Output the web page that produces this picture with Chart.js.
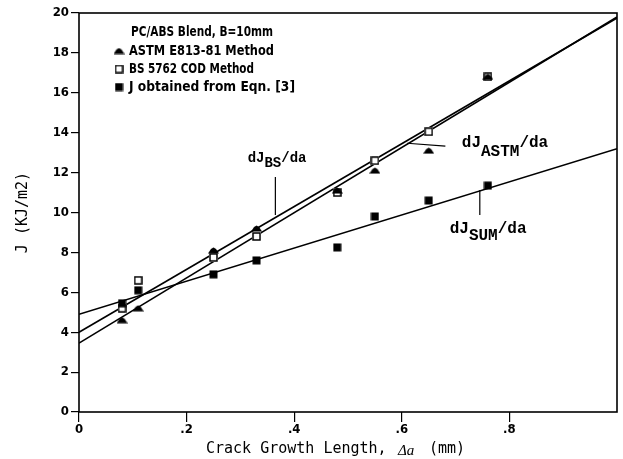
<!DOCTYPE html>
<html>
<head>
<meta charset="utf-8">
<script src="https://cdn.jsdelivr.net/npm/chart.js@4.4.1/dist/chart.umd.min.js"></script>
<style>
  html, body { margin: 0; padding: 0; background: #fff; }
  #wrap { width: 623px; height: 459px; }
</style>
</head>
<body>
<div id="wrap"><canvas id="c" width="623" height="459"></canvas></div>
<script>
// Crack growth length (mm) for each specimen
const crackLength = [0.08, 0.11, 0.25, 0.33, 0.48, 0.55, 0.65, 0.76];
// J values (kJ/m2) from each evaluation method
const jAstm = [4.6, 5.2, 8.1, 9.2, 11.1, 12.1, 13.1, 16.8];
const jBs = [5.2, 6.6, 7.75, 8.8, 11.0, 12.6, 14.05, 16.8];
const jEqn3 = [5.45, 6.1, 6.9, 7.6, 8.25, 9.8, 10.6, 11.35];

// Regression lines, given by their end values
const fitX = [0, 1];
const fitBs = [4.0, 19.75];
const fitAstm = [3.45, 19.8];
const fitSum = [4.9, 13.2];

// Axis ticks
const yTicks = [0, 2, 4, 6, 8, 10, 12, 14, 16, 18, 20];
const xTicks = [0, 0.2, 0.4, 0.6, 0.8];
const xTickLabels = ['0', '.2', '.4', '.6', '.8'];

const INK = '#000';
const TICK_FONT = '"DejaVu Sans Condensed", "DejaVu Sans", sans-serif';
const LEGEND_FONT = '"DejaVu Sans Condensed", "DejaVu Sans", sans-serif';
const TITLE_FONT = '"DejaVu Sans Mono", monospace';
const NOTE_FONT = '"Liberation Mono", "Courier New", monospace';

// Marker glyphs
function makeMarker(w, h, paint) {
  const cv = document.createElement('canvas');
  cv.width = w; cv.height = h;
  const g = cv.getContext('2d');
  paint(g);
  return cv;
}
const triMark = makeMarker(11, 7, g => {
  g.fillStyle = INK;
  g.beginPath();
  g.moveTo(0, 6.5); g.lineTo(3, 2); g.lineTo(5.5, 0.5); g.lineTo(8, 2); g.lineTo(11, 6.5);
  g.closePath(); g.fill();
});
const openSq = makeMarker(9, 9, g => {
  g.fillStyle = '#fff'; g.fillRect(0, 0, 9, 9);
  g.strokeStyle = INK; g.lineWidth = 1.5; g.strokeRect(1, 1, 7, 7);
});
const fillSq = makeMarker(9, 9, g => {
  g.fillStyle = INK; g.fillRect(0.5, 0.5, 8, 8);
});

const pts = ys => crackLength.map((x, i) => ({ x, y: ys[i] }));
const fit = ys => fitX.map((x, i) => ({ x, y: ys[i] }));

// Frame around the plotting area
const framePlugin = {
  id: 'frame',
  afterDatasetsDraw(chart) {
    const { ctx, chartArea: a } = chart;
    ctx.save();
    ctx.strokeStyle = INK; ctx.lineWidth = 1.6;
    ctx.strokeRect(a.left, a.top, a.right - a.left, a.bottom - a.top);
    ctx.restore();
  }
};

// Legend block with title, drawn inside the plot (narrow lettering)
const legendPlugin = {
  id: 'insideLegend',
  afterDraw(chart) {
    const { ctx } = chart;
    ctx.save();
    ctx.fillStyle = INK;
    ctx.textBaseline = 'middle';
    ctx.font = `bold 14px ${LEGEND_FONT}`;
    ctx.fillText('PC/ABS Blend, B=10mm', 131, 32, 142);
    const rows = [
      [triMark, 'ASTM E813-81 Method', 51, 145],
      [openSq, 'BS 5762 COD Method', 69, 125],
      [fillSq, 'J obtained from Eqn. [3]', 87, 166]
    ];
    rows.forEach(([img, label, y, w]) => {
      ctx.drawImage(img, 119 - img.width / 2, y - img.height / 2);
      ctx.fillText(label, 129, y, w);
    });
    ctx.restore();
  }
};

// Slope labels with leader lines, anchored in data units
function rateLabel(ctx, x, y, sub, size, subSize, drop) {
  ctx.textBaseline = 'alphabetic';
  ctx.font = `bold ${size}px ${NOTE_FONT}`;
  ctx.fillText('dJ', x, y);
  let cx = x + ctx.measureText('dJ').width;
  ctx.font = `bold ${subSize}px ${NOTE_FONT}`;
  ctx.fillText(sub, cx, y + drop);
  cx += ctx.measureText(sub).width;
  ctx.font = `bold ${size}px ${NOTE_FONT}`;
  ctx.fillText('/da', cx, y);
}
const notesPlugin = {
  id: 'notes',
  afterDraw(chart) {
    const { ctx } = chart;
    const X = v => chart.scales.x.getPixelForValue(v);
    const Y = v => chart.scales.y.getPixelForValue(v);
    ctx.save();
    ctx.fillStyle = INK; ctx.strokeStyle = INK; ctx.lineWidth = 1.2;
    const leader = (x1, y1, x2, y2) => {
      ctx.beginPath(); ctx.moveTo(X(x1), Y(y1)); ctx.lineTo(X(x2), Y(y2)); ctx.stroke();
    };
    rateLabel(ctx, X(0.3135), Y(12.53), 'BS', 14, 14, 5);
    leader(0.365, 11.78, 0.365, 9.87);
    rateLabel(ctx, X(0.7115), Y(13.28), 'ASTM', 16, 16, 9);
    leader(0.610, 13.47, 0.681, 13.33);
    rateLabel(ctx, X(0.689), Y(8.95), 'SUM', 16, 16, 7);
    leader(0.745, 11.13, 0.745, 9.87);

    // horizontal axis title with the italic increment symbol
    ctx.textBaseline = 'alphabetic';
    ctx.font = `15px ${TITLE_FONT}`;
    ctx.fillText('Crack Growth Length,', 206, 453);
    ctx.font = `italic 15px "Liberation Serif", serif`;
    ctx.fillText('\u0394a', 398, 455);
    ctx.font = `15px ${TITLE_FONT}`;
    ctx.fillText('(mm)', 429, 453);
    ctx.restore();
  }
};

new Chart(document.getElementById('c'), {
  type: 'scatter',
  data: {
    datasets: [
      { label: 'ASTM E813-81 Method', data: pts(jAstm), pointStyle: triMark, pointRadius: 5 },
      { label: 'J obtained from Eqn. [3]', data: pts(jEqn3), pointStyle: fillSq, pointRadius: 5 },
      { label: 'BS 5762 COD Method', data: pts(jBs), pointStyle: openSq, pointRadius: 5 },
      { label: 'dJ_BS/da', data: fit(fitBs), showLine: true, pointRadius: 0, borderColor: INK, borderWidth: 1.6 },
      { label: 'dJ_ASTM/da', data: fit(fitAstm), showLine: true, pointRadius: 0, borderColor: INK, borderWidth: 1.6 },
      { label: 'dJ_SUM/da', data: fit(fitSum), showLine: true, pointRadius: 0, borderColor: INK, borderWidth: 1.6 }
    ]
  },
  options: {
    responsive: false,
    animation: false,
    devicePixelRatio: 1,
    layout: { padding: { top: 13, right: 2, left: 0, bottom: 0 } },
    plugins: { legend: { display: false }, tooltip: { enabled: false } },
    elements: { line: { tension: 0 } },
    scales: {
      x: {
        type: 'linear', min: 0, max: 1,
        afterBuildTicks: s => { s.ticks = xTicks.map(v => ({ value: v })); },
        afterFit: s => { s.height = 47; },
        ticks: {
          color: INK, padding: 0, maxRotation: 0,
          font: { family: TICK_FONT, size: 13, weight: 'bold' },
          callback: (v) => { const i = xTicks.findIndex(t => Math.abs(t - v) < 1e-9); return i >= 0 ? xTickLabels[i] : ''; }
        },
        grid: { drawOnChartArea: false, tickLength: 10, color: INK, lineWidth: 1.2 },
        border: { display: false }
      },
      y: {
        min: 0, max: 20,
        afterBuildTicks: s => { s.ticks = yTicks.map(v => ({ value: v })); },
        afterFit: s => { s.width = 79; },
        ticks: {
          color: INK, padding: 2,
          font: { family: TICK_FONT, size: 13, weight: 'bold' },
          callback: v => String(v)
        },
        grid: { drawOnChartArea: false, tickLength: 8, color: INK, lineWidth: 1.2 },
        border: { display: false },
        title: {
          display: true, text: 'J (KJ/m2)', color: INK,
          font: { family: TITLE_FONT, size: 15 },
          padding: { top: 14, bottom: 0 }
        }
      }
    }
  },
  plugins: [framePlugin, legendPlugin, notesPlugin]
});
</script>
</body>
</html>
